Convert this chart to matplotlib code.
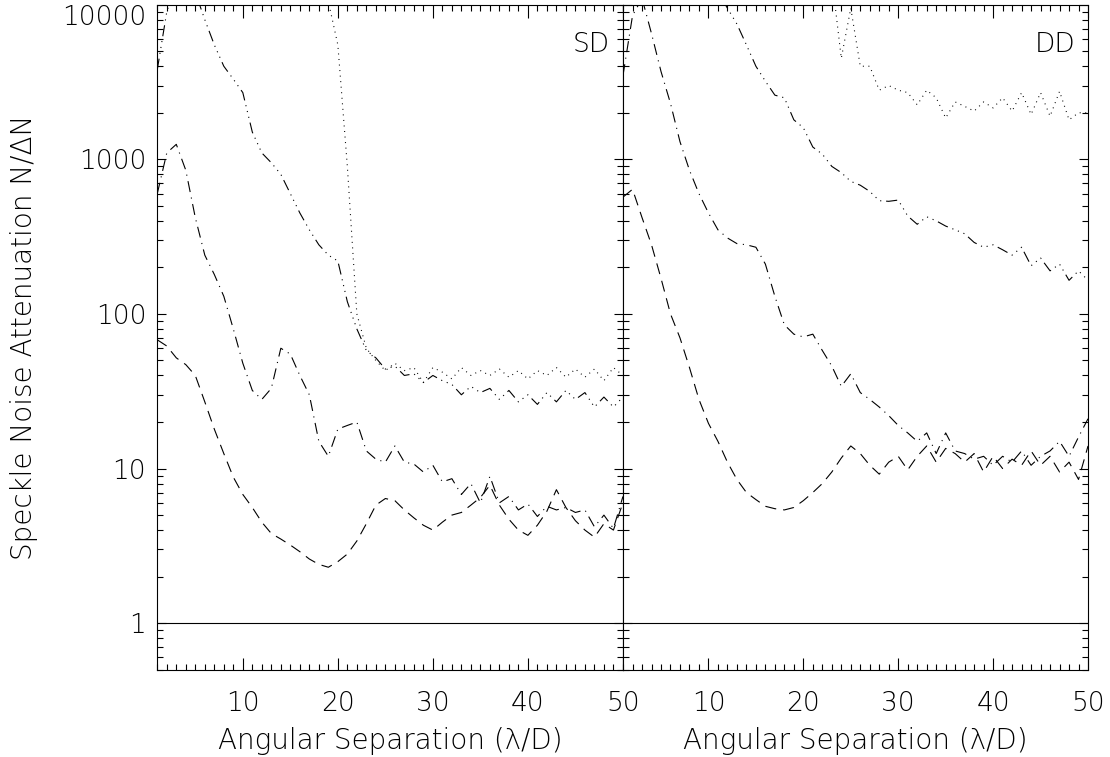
import matplotlib
matplotlib.use('Agg')

from matplotlib import pyplot
from matplotlib.ticker import LogLocator, MultipleLocator, NullFormatter, FixedLocator
import numpy as np

# angular separation, 1..50 lambda/D
sep = np.arange(1, 51)

# SD panel (values above 10000 run off the top of the plot)
sd_dotted = [40000, 40000, 40000, 40000, 40000, 40000, 40000, 40000, 40000, 40000,
             40000, 40000, 40000, 40000, 40000, 40000, 40000, 30000, 10500, 5500,
             900, 100, 60, 50, 43, 48, 43, 45, 36, 45,
             42, 38, 45, 40, 43, 40, 44, 39, 43, 38,
             43, 40, 45, 39, 44, 39, 44, 37, 45, 40]
sd_dashdot3 = [3800, 9000, 14000, 15000, 12000, 8000, 5500, 4000, 3300, 2700,
               1500, 1100, 950, 800, 600, 450, 350, 280, 240, 220,
               120, 80, 58, 52, 44, 46, 40, 41, 36, 40,
               37, 35, 30, 34, 31, 33, 28, 32, 27, 30,
               26, 31, 27, 32, 28, 31, 25, 29, 25, 29]
sd_dashdot = [600, 1100, 1250, 850, 420, 240, 180, 130, 80, 48,
              32, 28, 33, 60, 55, 40, 30, 15, 12, 18,
              19, 20, 13, 11.5, 11, 14, 11, 10.7, 9.5, 10.5,
              8.2, 8.6, 6.8, 8, 6, 8.9, 6, 6.6, 5.4, 5.9,
              4.9, 5.7, 5.4, 5.6, 5.2, 5.4, 4.2, 5, 4.1, 6.6]
sd_dashed = [68, 62, 52, 47, 40, 27, 18, 12.5, 8.8, 6.8,
             5.6, 4.5, 3.8, 3.5, 3.2, 2.9, 2.6, 2.4, 2.3, 2.5,
             2.8, 3.4, 4.4, 5.8, 6.4, 6.2, 5.4, 4.8, 4.3, 4.0,
             4.5, 5.0, 5.2, 5.8, 6.5, 7.8, 5.8, 4.7, 4.0, 3.7,
             4.3, 5.3, 7.3, 5.6, 4.6, 4.0, 3.6, 4.4, 4.0, 6.0]

# DD panel
dd_dotted = [40000, 40000, 40000, 40000, 40000, 40000, 40000, 40000, 40000, 40000,
             40000, 40000, 40000, 40000, 40000, 40000, 40000, 40000, 40000, 40000,
             40000, 30000, 15000, 4500, 9500, 4000, 4000, 2800, 3000, 2800,
             2700, 2250, 2800, 2500, 1850, 2350, 2200, 2050, 2350, 2150,
             2500, 2050, 2700, 1950, 2700, 1900, 2750, 1800, 2000, 2000]
dd_dashdot3 = [30000, 30000, 30000, 30000, 30000, 30000, 30000, 30000, 25000, 18000,
               12000, 9500, 7500, 5500, 4000, 3200, 2600, 2500, 1800, 1600,
               1200, 1080, 900, 820, 720, 680, 620, 540, 535, 545,
               430, 380, 425, 400, 370, 350, 330, 290, 270, 280,
               260, 240, 270, 205, 230, 190, 210, 165, 190, 165]
dd_dashdot = [3500, 8500, 11000, 6500, 3700, 2300, 1300, 850, 600, 450,
              350, 310, 285, 280, 270, 210, 130, 85, 74, 71,
              74, 58, 46, 34, 41, 31, 28, 25, 22, 19,
              17, 15, 17, 12.5, 17, 13, 12.5, 11.5, 12, 10.5,
              12, 11, 13, 10.5, 12, 13, 15, 12, 16, 21]
dd_dashed = [570, 640, 420, 280, 170, 100, 70, 45, 28, 19.6,
             15, 11, 8.5, 7.0, 6.3, 5.7, 5.5, 5.4, 5.6, 6.2,
             7, 8, 9.5, 11.7, 14, 12.5, 10.5, 9.2, 11, 12,
             9.8, 12, 14, 11, 13.5, 12.5, 11, 12.5, 9.5, 12,
             10, 11.5, 10.5, 13, 10.5, 12, 9.5, 11, 8.5, 14]

panel_labels = ['SD', 'DD']
x_ticks = [10, 20, 30, 40, 50]
y_ticks = [1, 10, 100, 1000, 10000]

pyplot.rcParams['font.family'] = ['DejaVu Sans']
pyplot.rcParams['font.weight'] = 'light'
pyplot.rcParams['axes.labelweight'] = 'light'
pyplot.rcParams['lines.scale_dashes'] = False

FS = 19     # tick labels
LFS = 20    # axis labels
LW = 0.8

styles = {
    'dotted': (0, (0.7, 3.3)),
    'dashdot3': (0, (8, 3.5, 0.8, 3.5, 0.8, 3.5, 0.8, 3.5)),
    'dashdot': (0, (8, 4, 0.8, 4)),
    'dashed': (0, (8, 5)),
}

fig = pyplot.figure(figsize=(11.10, 7.57), dpi=100)
ax1 = fig.add_axes([0.1417, 0.1153, 0.4195, 0.8785])
ax2 = fig.add_axes([0.5613, 0.1153, 0.4189, 0.8785])

panels = [
    (ax1, sd_dotted, sd_dashdot3, sd_dashdot, sd_dashed),
    (ax2, dd_dotted, dd_dashdot3, dd_dashdot, dd_dashed),
]

for i, (ax, dot, dd3, dd1, dsh) in enumerate(panels):
    ax.plot(sep, dot, color='k', lw=LW, linestyle=styles['dotted'])
    ax.plot(sep, dd3, color='k', lw=LW, linestyle=styles['dashdot3'])
    ax.plot(sep, dd1, color='k', lw=LW, linestyle=styles['dashdot'])
    ax.plot(sep, dsh, color='k', lw=LW, linestyle=styles['dashed'])
    ax.axhline(1, color='k', lw=LW)

    ax.set_yscale('log')
    ax.set_xlim(1, 50)
    ax.set_ylim(0.5, 10000)

    ax.xaxis.set_major_locator(FixedLocator(x_ticks))
    ax.xaxis.set_minor_locator(MultipleLocator(1))
    ax.yaxis.set_major_locator(FixedLocator(y_ticks))
    ax.yaxis.set_minor_locator(LogLocator(base=10, subs=np.arange(2, 10)))
    ax.yaxis.set_minor_formatter(NullFormatter())

    ax.tick_params(which='both', direction='in', top=True, right=True,
                   width=0.8, color='k', labelsize=FS)
    ax.tick_params(axis='x', which='major', length=9, pad=15)
    ax.tick_params(axis='y', which='major', length=6.5, pad=8)
    ax.tick_params(which='minor', length=4)
    for s in ax.spines.values():
        s.set_linewidth(0.8)

    ax.set_xlabel('Angular Separation (λ/D)', fontsize=LFS)
    ax.xaxis.label.set_va('baseline')
    ax.xaxis.set_label_coords(0.5, -0.1192)
    ax.text(0.972, 0.929, panel_labels[i], transform=ax.transAxes,
            ha='right', va='baseline', fontsize=FS)

ax1.set_yticklabels([str(v) for v in y_ticks])
ax1.get_yticklabels()[-1].set_va('top')
ax2.set_yticklabels([])
ax1.set_ylabel('Speckle Noise Attenuation N/ΔN', fontsize=LFS)
ax1.yaxis.label.set_va('baseline')
ax1.yaxis.set_label_coords(-0.269, 0.5)

pyplot.savefig('out.png', dpi=100)
pyplot.close()
